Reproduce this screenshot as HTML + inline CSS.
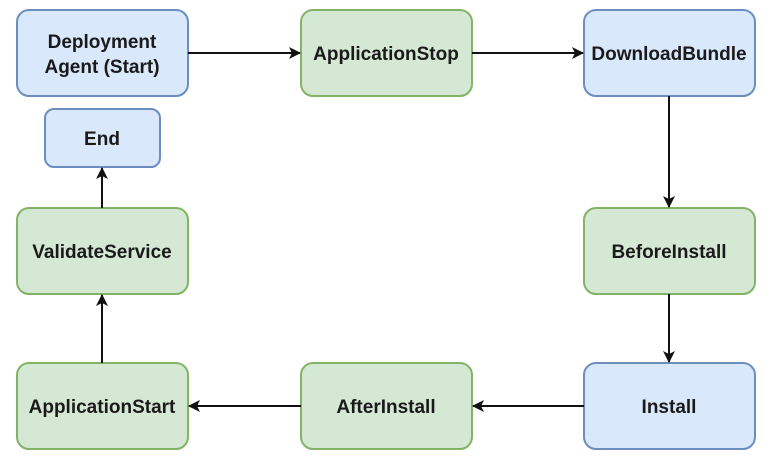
<!DOCTYPE html>
<html><head><style>
body{margin:0;background:#fff;}
text{font-family:"Liberation Sans",Arial,sans-serif;font-size:19px;font-weight:bold;fill:#1a1a1a;text-anchor:middle;}
</style></head><body>
<svg width="770" height="458" viewBox="0 0 770 458" xmlns="http://www.w3.org/2000/svg">
<defs><marker id="a" markerWidth="12" markerHeight="12" refX="11" refY="6" orient="auto" markerUnits="userSpaceOnUse"><path d="M0,0 L12,6 L0,12 L3,6 z" fill="#111"/></marker></defs>
<g stroke-width="2">
<rect x="17" y="10" width="171" height="86" rx="12" fill="#dae8fc" stroke="#6c8ebf"/>
<rect x="301" y="10" width="171" height="86" rx="12" fill="#d5e8d4" stroke="#82b366"/>
<rect x="584" y="10" width="171" height="86" rx="12" fill="#dae8fc" stroke="#6c8ebf"/>
<rect x="45" y="109" width="115" height="58" rx="9" fill="#dae8fc" stroke="#6c8ebf"/>
<rect x="17" y="208" width="171" height="86" rx="12" fill="#d5e8d4" stroke="#82b366"/>
<rect x="584" y="208" width="171" height="86" rx="12" fill="#d5e8d4" stroke="#82b366"/>
<rect x="17" y="363" width="171" height="86" rx="12" fill="#d5e8d4" stroke="#82b366"/>
<rect x="301" y="363" width="171" height="86" rx="12" fill="#d5e8d4" stroke="#82b366"/>
<rect x="584" y="363" width="171" height="86" rx="12" fill="#dae8fc" stroke="#6c8ebf"/>
</g>
<g stroke="#111" stroke-width="2" fill="none" marker-end="url(#a)">
<line x1="188" y1="53" x2="300" y2="53"/>
<line x1="472" y1="53" x2="583" y2="53"/>
<line x1="669" y1="96" x2="669" y2="207"/>
<line x1="669" y1="294" x2="669" y2="362"/>
<line x1="584" y1="406" x2="473" y2="406"/>
<line x1="301" y1="406" x2="189" y2="406"/>
<line x1="102" y1="363" x2="102" y2="295"/>
<line x1="102" y1="208" x2="102" y2="168"/>
</g>
<text x="102" y="48">Deployment</text>
<text x="102" y="73">Agent (Start)</text>
<text x="386" y="60">ApplicationStop</text>
<text x="669" y="60">DownloadBundle</text>
<text x="102" y="145">End</text>
<text x="102" y="258">ValidateService</text>
<text x="669" y="258">BeforeInstall</text>
<text x="102" y="413">ApplicationStart</text>
<text x="386" y="413">AfterInstall</text>
<text x="669" y="413">Install</text>
</svg>
</body></html>
